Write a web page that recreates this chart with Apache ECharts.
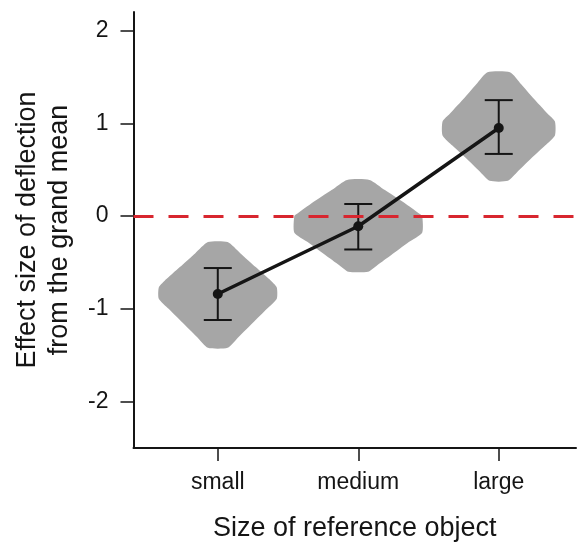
<!DOCTYPE html>
<html>
<head>
<meta charset="utf-8">
<script src="https://cdn.jsdelivr.net/npm/echarts@6/dist/echarts.min.js"></script>
<style>
  html, body { margin: 0; padding: 0; background: #fff; }
  #chart { width: 577px; height: 547px; }
</style>
</head>
<body>
<div id="chart"></div>
<script>
const categories = ['small', 'medium', 'large']
const catPos = [1, 2, 3]
const means = [-0.84, -0.11, 0.95]
const ciLow = [-1.12, -0.36, 0.67]
const ciHigh = [-0.56, 0.13, 1.25]
const yTicks = [-2, -1, 0, 1, 2]

// violin outlines, top to bottom: [y, half width in x units]
const violinSmall = [[-0.28, 0.07], [-0.40, 0.16], [-0.55, 0.27], [-0.70, 0.38], [-0.77, 0.42], [-0.89, 0.42], [-1.00, 0.35], [-1.15, 0.25], [-1.30, 0.15], [-1.42, 0.07]]
const violinMedium = [[0.39, 0.08], [0.28, 0.19], [0.14, 0.33], [0.03, 0.43], [0.00, 0.455], [-0.18, 0.455], [-0.28, 0.36], [-0.42, 0.235], [-0.53, 0.135], [-0.60, 0.07]]
const violinLarge = [[1.55, 0.08], [1.42, 0.16], [1.28, 0.24], [1.10, 0.35], [1.02, 0.40], [0.87, 0.40], [0.76, 0.33], [0.62, 0.23], [0.48, 0.135], [0.38, 0.065]]
const violins = [violinSmall, violinMedium, violinLarge]

const font = 'Liberation Sans, Arial, Helvetica, sans-serif'
const ink = '#151515'

const chart = echarts.init(document.getElementById('chart'))

function renderViolin(params, api) {
  const prof = violins[params.dataIndex]
  const cx = api.value(0)
  const right = prof.map(p => api.coord([cx + p[1], p[0]]))
  const left = prof.slice().reverse().map(p => api.coord([cx - p[1], p[0]]))
  return {
    type: 'polygon',
    shape: { points: right.concat(left), smooth: 0.2 },
    style: { fill: '#a6a6a6' },
  }
}

function renderErr(params, api) {
  const x = api.value(0)
  const hi = api.coord([x, api.value(1)])
  const lo = api.coord([x, api.value(2)])
  const cap = 14
  const style = { stroke: ink, lineWidth: 2 }
  return {
    type: 'group',
    children: [
      { type: 'line', shape: { x1: hi[0], y1: hi[1], x2: lo[0], y2: lo[1] }, style },
      { type: 'line', shape: { x1: hi[0] - cap, y1: hi[1], x2: hi[0] + cap, y2: hi[1] }, style },
      { type: 'line', shape: { x1: lo[0] - cap, y1: lo[1], x2: lo[0] + cap, y2: lo[1] }, style },
    ],
  }
}

chart.setOption({
  animation: false,
  grid: { left: 133.5, right: 1, top: 12, bottom: 93 },
  xAxis: {
    type: 'value',
    min: 0.4,
    max: 3.55,
    name: 'Size of reference object',
    nameLocation: 'middle',
    nameGap: 67,
    nameTextStyle: { fontFamily: font, fontSize: 27, color: ink },
    axisLine: { onZero: false, lineStyle: { color: ink, width: 2 } },
    axisTick: { customValues: catPos, length: 13, lineStyle: { color: ink, width: 1.5 } },
    axisLabel: {
      customValues: catPos,
      formatter: v => categories[catPos.indexOf(v)],
      fontFamily: font,
      fontSize: 23,
      color: ink,
      margin: 23,
    },
    splitLine: { show: false },
  },
  yAxis: {
    type: 'value',
    min: -2.5,
    max: 2.2,
    name: 'Effect size of deflection\nfrom the grand mean',
    nameLocation: 'middle',
    nameRotate: 90,
    nameGap: 58,
    nameTextStyle: { fontFamily: font, fontSize: 27, lineHeight: 32, color: ink },
    axisLine: { onZero: false, lineStyle: { color: ink, width: 2 } },
    axisTick: { customValues: yTicks, length: 13, lineStyle: { color: ink, width: 1.5 } },
    axisLabel: {
      customValues: yTicks,
      fontFamily: font,
      fontSize: 23,
      color: ink,
      margin: 25,
    },
    splitLine: { show: false },
  },
  series: [
    {
      name: 'grand mean',
      type: 'line',
      data: [],
      z: 1,
      markLine: {
        silent: true,
        symbol: 'none',
        label: { show: false },
        lineStyle: { color: '#d8262f', width: 3, type: [20, 15] },
        data: [{ yAxis: 0 }],
      },
    },
    {
      name: 'density',
      type: 'custom',
      z: 2,
      renderItem: renderViolin,
      data: catPos.map((x, i) => [x, means[i]]),
    },
    {
      name: 'ci',
      type: 'custom',
      z: 3,
      renderItem: renderErr,
      data: catPos.map((x, i) => [x, ciHigh[i], ciLow[i]]),
    },
    {
      name: 'mean',
      type: 'line',
      z: 4,
      data: catPos.map((x, i) => [x, means[i]]),
      symbol: 'circle',
      symbolSize: 10,
      itemStyle: { color: ink },
      lineStyle: { color: ink, width: 3.5 },
    },
  ],
})
</script>
</body>
</html>
